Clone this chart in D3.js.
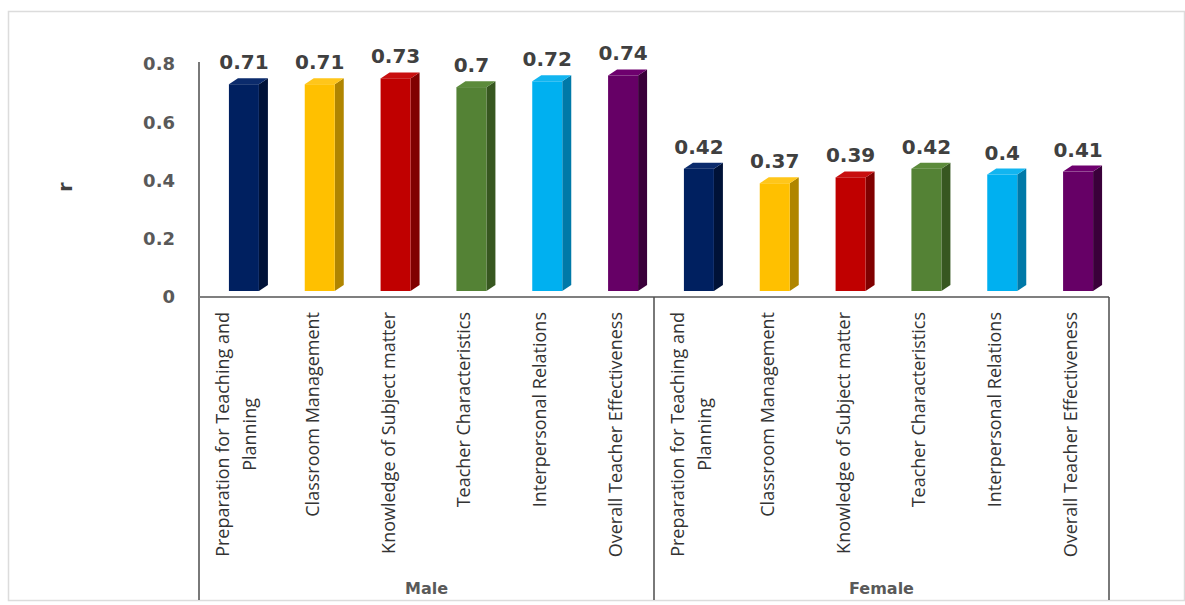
<!DOCTYPE html>
<html>
<head>
<meta charset="utf-8">
<script src="https://cdn.jsdelivr.net/npm/d3@7"></script>
<style>
  html, body { margin: 0; padding: 0; background: #ffffff; }
  svg { display: block; }
</style>
</head>
<body>
<svg id="chart" width="1185" height="605"></svg>
<script>
// ---- data ----
const groups = ["Male", "Female"];
const categories = [
  "Preparation for Teaching and\nPlanning",
  "Classroom Management",
  "Knowledge of Subject matter",
  "Teacher Characteristics",
  "Interpersonal Relations",
  "Overall Teacher Effectiveness"
];
const maleValues = [0.71, 0.71, 0.73, 0.70, 0.72, 0.74];
const femaleValues = [0.42, 0.37, 0.39, 0.42, 0.40, 0.41];
const yTicks = [0, 0.2, 0.4, 0.6, 0.8];
const yLabel = "r";
const frontColors = ["#002060", "#FFC000", "#C00000", "#548235", "#00B0F0", "#660066"];
const sideColors  = ["#001238", "#B08500", "#800000", "#375720", "#0079A8", "#3a003a"];
const topColors   = ["#0b2b6c", "#FFC61a", "#c80f0f", "#5c8b3b", "#12b5f0", "#6e006e"];

const seriesByGroup = { Male: maleValues, Female: femaleValues };

// ---- layout ----
const svg = d3.select("#chart");
const plotLeft = 199, plotRight = 1109, y0px = 297, yTopPx = 64, bottomPx = 600;
const depthX = 9, depthY = 6, lift = 6;

// frame
svg.append("rect")
  .attr("x", 8.5).attr("y", 11.5).attr("width", 1176).attr("height", 589)
  .attr("fill", "none").attr("stroke", "#dcdcdc").attr("stroke-width", 1.5);

const gx = d3.scaleBand().domain(groups).range([plotLeft, plotRight]).padding(0);
const cx = d3.scaleBand().domain(d3.range(categories.length)).range([0, gx.bandwidth()]).padding(0);
const y = d3.scaleLinear().domain([0, 0.8]).range([y0px, yTopPx]);

// y axis
const yAxis = d3.axisLeft(y).tickValues(yTicks).tickSize(0).tickPadding(24)
  .tickFormat(d => d === 0 ? "0" : d3.format(".1f")(d));
const yg = svg.append("g").attr("transform", `translate(${plotLeft},0)`).call(yAxis);
yg.select(".domain").remove();
yg.selectAll("text")
  .attr("font-family", "DejaVu Sans, Verdana, sans-serif")
  .attr("font-weight", "bold").attr("font-size", 18).attr("fill", "#595959");

// axis lines
const lineColor = "#4d4d4d";
svg.append("line").attr("x1", plotLeft).attr("x2", plotLeft)
  .attr("y1", y(0.8) - 2).attr("y2", bottomPx).attr("stroke", lineColor).attr("stroke-width", 1.5);
svg.append("line").attr("x1", plotLeft).attr("x2", plotRight)
  .attr("y1", y0px).attr("y2", y0px).attr("stroke", "#7f7f7f").attr("stroke-width", 2);
groups.forEach(g => {
  const xr = gx(g) + gx.bandwidth();
  svg.append("line").attr("x1", xr).attr("x2", xr)
    .attr("y1", y0px).attr("y2", bottomPx).attr("stroke", lineColor).attr("stroke-width", 1.5);
});

// y label
svg.append("text")
  .attr("transform", `translate(72,187) rotate(-90)`)
  .attr("text-anchor", "middle")
  .attr("font-family", "DejaVu Sans, Verdana, sans-serif")
  .attr("font-weight", "bold").attr("font-size", 19).attr("fill", "#404040")
  .text(yLabel);

// bars
groups.forEach(g => {
  const vals = seriesByGroup[g];
  vals.forEach((v, i) => {
    const c = gx(g) + cx(i) + cx.bandwidth() / 2;
    const fx0 = c - 8, fx1 = c + 22;
    const ftop = y(v) - lift, fbot = y(0) - lift;
    const bar = svg.append("g");
    bar.append("polygon")
      .attr("points", [[fx1, ftop], [fx1 + depthX, ftop - depthY], [fx1 + depthX, fbot - depthY], [fx1, fbot]].map(p => p.join(",")).join(" "))
      .attr("fill", sideColors[i]);
    bar.append("polygon")
      .attr("points", [[fx0, ftop], [fx0 + depthX, ftop - depthY], [fx1 + depthX, ftop - depthY], [fx1, ftop]].map(p => p.join(",")).join(" "))
      .attr("fill", topColors[i]);
    bar.append("rect")
      .attr("x", fx0).attr("y", ftop).attr("width", fx1 - fx0).attr("height", fbot - ftop)
      .attr("fill", frontColors[i]);
    svg.append("text")
      .attr("x", c + 7).attr("y", y(v) - 21)
      .attr("text-anchor", "middle")
      .attr("font-family", "DejaVu Sans, Verdana, sans-serif")
      .attr("font-weight", "bold").attr("font-size", 20).attr("fill", "#404040")
      .text(String(v));
  });
});

// category labels
const labelTop = 312, lineGap = 27;
groups.forEach(g => {
  categories.forEach((cat, i) => {
    const c = gx(g) + cx(i) + cx.bandwidth() / 2;
    const lines = cat.split("\n");
    const t = svg.append("text")
      .attr("font-family", "'Open Sans', Lato, sans-serif")
      .attr("font-size", 18).attr("fill", "#333333");
    const spans = lines.map((ln, k) => t.append("tspan").text(ln));
    const maxLen = d3.max(spans, s => s.node().getComputedTextLength());
    t.attr("transform", `translate(${c},${labelTop}) rotate(-90)`)
      .attr("text-anchor", "middle");
    spans.forEach((s, k) => {
      s.attr("x", -maxLen / 2).attr("y", 6 + (k - (lines.length - 1) / 2) * lineGap);
    });
  });
});

// group labels
groups.forEach(g => {
  svg.append("text")
    .attr("x", gx(g) + gx.bandwidth() / 2).attr("y", 594)
    .attr("text-anchor", "middle")
    .attr("font-family", "DejaVu Sans, Verdana, sans-serif")
    .attr("font-weight", "bold").attr("font-size", 16).attr("fill", "#595959")
    .text(g);
});
</script>
</body>
</html>
